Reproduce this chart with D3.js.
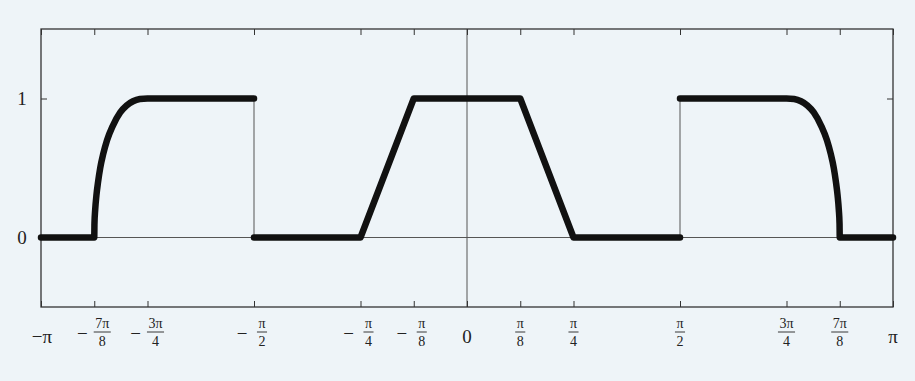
<!DOCTYPE html>
<meta charset="utf-8">
<head>
<style type='text/css'>
  body {
    margin: 0;
    background: #eef4f8;
  }
  text {
    font-family: 'Liberation Serif', serif;
    fill: #222;
  }
  .frame {
    fill: none;
    stroke: #333;
    stroke-width: 1.3;
  }
  .thin {
    stroke: #555;
    stroke-width: 1;
  }
  .graph {
    fill: none;
    stroke: #111;
    stroke-width: 6.5;
    stroke-linecap: round;
    stroke-linejoin: round;
  }
</style>
</head>
<body>
<svg id="chart" width="915" height="381"></svg>
<script src="https://d3js.org/d3.v7.min.js"></script>
<script>
// x values are in units of pi
var xTicks = [-1, -7/8, -3/4, -1/2, -1/4, -1/8, 0, 1/8, 1/4, 1/2, 3/4, 7/8, 1];
var xTickLabels = ["−π", "−7π/8", "−3π/4", "−π/2", "−π/4", "−π/8", "0", "π/8", "π/4", "π/2", "3π/4", "7π/8", "π"];
var yTicks = [0, 1];

// left piece: zero, rounded rise, one (ends at the jump at -pi/2)
var leftX = [-1, -0.875, -0.8745, -0.8728, -0.870, -0.866, -0.861, -0.854, -0.845, -0.832, -0.814, -0.799, -0.784, -0.768, -0.75, -0.5];
var leftY = [0, 0, 0.1, 0.2, 0.3, 0.4, 0.5, 0.6, 0.7, 0.8, 0.9, 0.95, 0.98, 0.996, 1, 1];

// middle piece: trapezoid
var midX = [-0.5, -0.25, -0.125, 0.125, 0.25, 0.5];
var midY = [0, 0, 1, 1, 0, 0];

// right piece: one, rounded fall, zero
var rightX = [0.5, 0.75, 0.768, 0.784, 0.799, 0.814, 0.832, 0.845, 0.854, 0.861, 0.866, 0.870, 0.8728, 0.8745, 0.875, 1];
var rightY = [1, 1, 0.996, 0.98, 0.95, 0.9, 0.8, 0.7, 0.6, 0.5, 0.4, 0.3, 0.2, 0.1, 0, 0];

// jumps at -pi/2 and pi/2
var jumpX = [-0.5, 0.5];

var svg = d3.select("#chart");

var plotL = 41, plotR = 893, plotT = 29, plotB = 307;

var x = d3.scaleLinear().domain([-1, 1]).range([plotL, plotR]);
var y = d3.scaleLinear().domain([-0.5, 1.5]).range([plotB, plotT]);

svg.append("rect")
    .attr("width", 915)
    .attr("height", 381)
    .attr("fill", "#eef4f8");

// axes lines through the origin
svg.append("line")
    .attr("class", "thin")
    .attr("x1", x(-1)).attr("x2", x(1))
    .attr("y1", y(0)).attr("y2", y(0));
svg.append("line")
    .attr("class", "thin")
    .attr("x1", x(0)).attr("x2", x(0))
    .attr("y1", y(-0.5)).attr("y2", y(1.5));

// jump lines
svg.selectAll(".jump")
    .data(jumpX)
  .enter().append("line")
    .attr("class", "thin jump")
    .attr("x1", function(d) { return x(d); })
    .attr("x2", function(d) { return x(d); })
    .attr("y1", y(0))
    .attr("y2", y(1));

// inward ticks on all four sides
function noDomain(g) { g.select(".domain").remove(); g.selectAll("line").attr("stroke", "#333"); }

svg.append("g")
    .attr("transform", "translate(0," + plotB + ")")
    .call(d3.axisTop(x).tickValues(xTicks).tickSize(6).tickFormat(""))
    .call(noDomain);
svg.append("g")
    .attr("transform", "translate(0," + plotT + ")")
    .call(d3.axisBottom(x).tickValues(xTicks).tickSize(6).tickFormat(""))
    .call(noDomain);
svg.append("g")
    .attr("transform", "translate(" + plotL + ",0)")
    .call(d3.axisRight(y).tickValues([1]).tickSize(6).tickFormat(""))
    .call(noDomain);
svg.append("g")
    .attr("transform", "translate(" + plotR + ",0)")
    .call(d3.axisLeft(y).tickValues([1]).tickSize(6).tickFormat(""))
    .call(noDomain);

svg.append("rect")
    .attr("class", "frame")
    .attr("x", plotL)
    .attr("y", plotT)
    .attr("width", plotR - plotL)
    .attr("height", plotB - plotT);

// y labels
svg.selectAll(".ylab")
    .data(yTicks)
  .enter().append("text")
    .attr("class", "ylab")
    .attr("x", 22)
    .attr("y", function(d) { return y(d); })
    .attr("dy", "0.35em")
    .attr("text-anchor", "middle")
    .style("font-size", "19px")
    .text(function(d) { return d; });

// x labels, fractions stacked
xTicks.forEach(function(t, i) {
  var lab = xTickLabels[i];
  var cx = x(t);
  var g = svg.append("g");
  if (lab.indexOf("/") < 0) {
    g.append("text")
      .attr("x", cx + (lab.length > 1 ? 1 : 0))
      .attr("y", 336)
      .attr("dy", "0.35em")
      .attr("text-anchor", "middle")
      .style("font-size", "19px")
      .text(lab);
    return;
  }
  var neg = lab[0] === "−";
  var parts = (neg ? lab.slice(1) : lab).split("/");
  var fx = neg ? cx + 8 : cx;
  if (neg) {
    g.append("text")
      .attr("x", cx - 12)
      .attr("y", 333)
      .attr("dy", "0.35em")
      .attr("text-anchor", "middle")
      .style("font-size", "19px")
      .text("−");
  }
  var num = g.append("text")
    .attr("x", fx)
    .attr("y", 328)
    .attr("text-anchor", "middle")
    .style("font-size", "14px")
    .text(parts[0]);
  g.append("text")
    .attr("x", fx)
    .attr("y", 346)
    .attr("text-anchor", "middle")
    .style("font-size", "14px")
    .text(parts[1]);
  var w = num.node().getComputedTextLength() + 3;
  g.append("line")
    .attr("x1", fx - w / 2).attr("x2", fx + w / 2)
    .attr("y1", 332).attr("y2", 332)
    .attr("stroke", "#222")
    .attr("stroke-width", 0.9);
});

// the function: rounded pieces smoothed, trapezoid straight
var smooth = d3.line()
    .curve(d3.curveMonotoneX)
    .x(function(d) { return x(d[0]); })
    .y(function(d) { return y(d[1]); });
var straight = d3.line()
    .x(function(d) { return x(d[0]); })
    .y(function(d) { return y(d[1]); });

[[leftX, leftY, smooth], [midX, midY, straight], [rightX, rightY, smooth]].forEach(function(p) {
  svg.append("path")
      .datum(d3.zip(p[0], p[1]))
      .attr("class", "graph")
      .attr("d", p[2]);
});
</script>
</body>
